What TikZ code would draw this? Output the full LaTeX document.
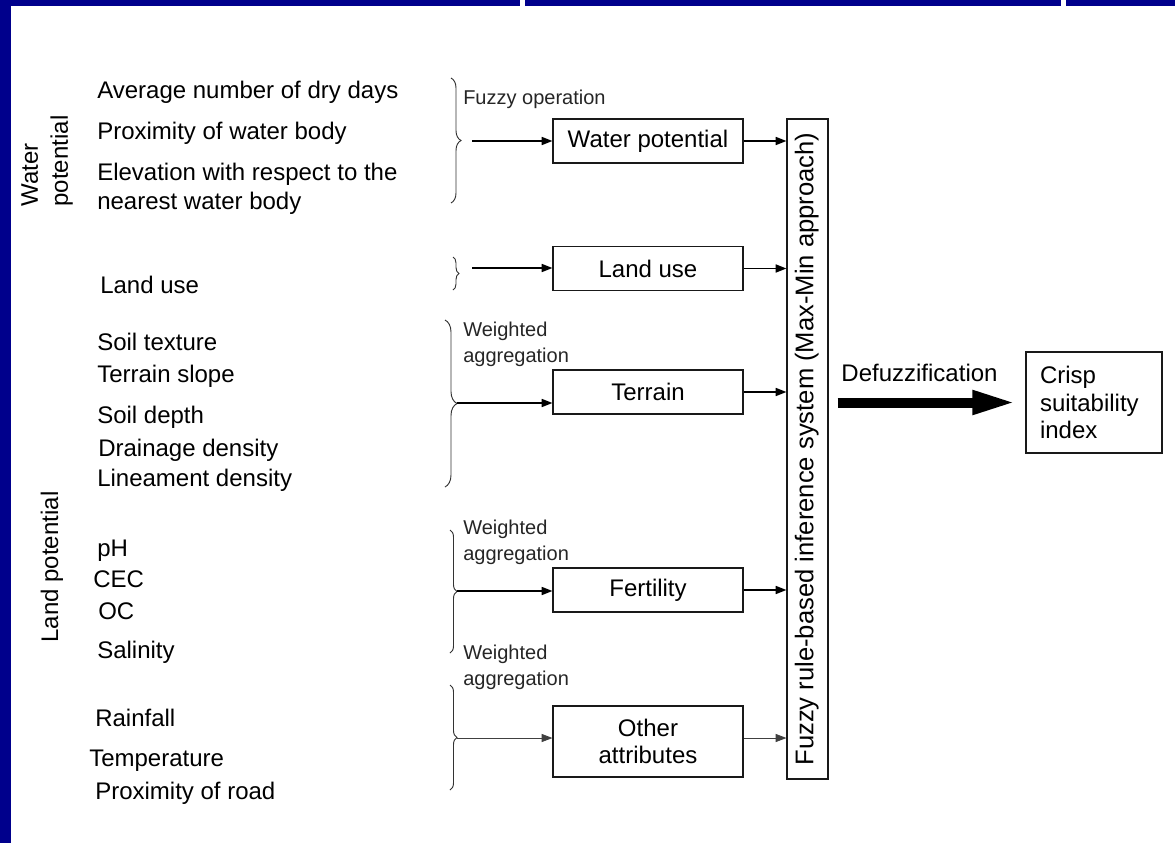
\documentclass[tikz,border=0pt]{standalone}
\usepackage{fontspec}
\setmainfont{Liberation Sans}
\usetikzlibrary{arrows.meta,decorations.pathreplacing,calc}
\definecolor{frame}{RGB}{0,0,140}
\definecolor{ink}{RGB}{25,25,25}

\begin{document}
\begin{tikzpicture}[x=0.75pt,y=-0.75pt,
  lbl/.style={anchor=base west, inner sep=0pt, font=\fontsize{18}{21.6}\selectfont},
  note/.style={anchor=north west, inner sep=0pt, align=left, text=black!85,
               font=\fontsize{15}{19.5}\selectfont},
  group/.style={rotate=90, inner sep=0pt, align=left, font=\fontsize{18}{22.5}\selectfont},
  stage/.style={draw=ink, line width=0.9pt, minimum width=142.5pt, minimum height=33pt,
                inner sep=0pt, align=center, font=\fontsize{18}{20.25}\selectfont},
  link/.style={line width=1.1pt, -{Triangle[length=8pt,width=6pt]}},
  thinlink/.style={line width=0.6pt, draw=black!75, fill=black,
                   -{Triangle[length=8pt,width=6pt]}},
  curly/.style={draw=black!80, line width=0.7pt, decorate,
                decoration={brace, amplitude=#1}},
  fatarrow/.style={line width=7.5pt, -{Triangle[length=33pt,width=16.5pt]},
                   shorten <=6.75pt, shorten >=6.75pt},
]

% page and frame
\fill[white] (0,0) rectangle (1175,843);
\fill[frame] (0,0) rectangle (520,6);
\fill[frame] (525,0) rectangle (1061,6);
\fill[frame] (1066,0) rectangle (1175,6);
\fill[frame] (0,0) rectangle (11,843);

% group headings
\node[group] (gwater) at (47,161) {Water\\potential};
\node[group, align=center] (gland) at (52,567) {Land potential};

% input attributes
\node[lbl] (avg)   at (97,98)  {Average number of dry days};
\node[lbl] (proxw) at (97,139) {Proximity of water body};
\node[anchor=north west, inner sep=0pt, align=left,
      font=\fontsize{18}{21.75}\selectfont] (elev) at (97,163)
      {Elevation with respect to the\\nearest water body};
\node[lbl] (luin)  at (100,293) {Land use};
\node[lbl] (stex)  at (97,350) {Soil texture};
\node[lbl] (slope) at (97,382) {Terrain slope};
\node[lbl] (sdep)  at (97,423) {Soil depth};
\node[lbl] (drain) at (98,456) {Drainage density};
\node[lbl] (linea) at (97,486) {Lineament density};
\node[lbl] (ph)    at (97,556) {pH};
\node[lbl] (cec)   at (93,587) {CEC};
\node[lbl] (oc)    at (98,619) {OC};
\node[lbl] (sal)   at (97,658) {Salinity};
\node[lbl] (rain)  at (95,726) {Rainfall};
\node[lbl] (temp)  at (89,766) {Temperature};
\node[lbl] (road)  at (95,799) {Proximity of road};

% braces collecting the inputs
\draw[curly=7.5pt]  (451,78)  -- (451,203);
\draw[curly=4.5pt]  (453,257) -- (453,290);
\draw[curly=9pt]    (445,320) -- (445,487);
\draw[curly=5.25pt] (450,530) -- (450,653);
\draw[curly=5.25pt] (450,685) -- (450,790);

\coordinate (twp)  at (472,141);
\coordinate (tlu)  at (472,268);
\coordinate (tter) at (457,403);
\coordinate (tfer) at (457,591);
\coordinate (toth) at (457,738);

% operation notes
\node[note] (nfz)  at (463,90)  {Fuzzy operation};
\node[note] (nter) at (463,322) {Weighted\\aggregation};
\node[note] (nfer) at (463,520) {Weighted\\aggregation};
\node[note] (noth) at (463,645) {Weighted\\aggregation};

% intermediate layers
\node[stage] (wp)  at (648,141)   {Water potential};
\node[stage] (lu)  at (648,268.5) {Land use};
\node[stage] (ter) at (648,392)   {Terrain};
\node[stage] (fer) at (648,590)   {Fertility};
\node[stage, minimum height=53.25pt] (oth) at (648,741.5) {Other\\attributes};

% inference system
\node[draw=ink, line width=0.9pt, minimum width=30.75pt, minimum height=495pt,
      inner sep=0pt] (inf) at (807.5,449) {};
\node[rotate=90, inner sep=0pt, font=\fontsize{19.2}{23}\selectfont] (inftxt)
      at ([xshift=-0.5pt]inf.center) {Fuzzy rule-based inference system (Max-Min approach)};

% output
\node[draw=ink, line width=0.9pt, text width=81pt, inner xsep=10.5pt, inner ysep=0pt,
      minimum height=75.75pt, align=left, font=\fontsize{18}{20.6}\selectfont]
      (crisp) at (1094,402.5) {Crisp\\suitability\\index};

% connectors: braces to layers
\draw[link] (twp)  -- (twp -| wp.west);
\draw[link] (tlu)  -- (tlu -| lu.west);
\draw[link] (tter) -- (tter -| ter.west);
\draw[link] (tfer) -- (tfer -| fer.west);
\draw[thinlink] (toth) -- (toth -| oth.west);

% connectors: layers to inference system
\draw[link] (wp.east)  -- (wp.east -| inf.west);
\draw[link] (lu.east)  -- (lu.east -| inf.west);
\draw[link] (ter.east) -- (ter.east -| inf.west);
\draw[link] (fer.east) -- (fer.east -| inf.west);
\draw[thinlink] (toth -| oth.east) -- (toth -| inf.west);

% defuzzification
\draw[fatarrow] (inf.east |- crisp.west) -- (crisp.west);
\node[inner sep=0pt, font=\fontsize{18}{21.6}\selectfont] (defz) at (919.5,373) {Defuzzification};

\end{tikzpicture}
\end{document}
